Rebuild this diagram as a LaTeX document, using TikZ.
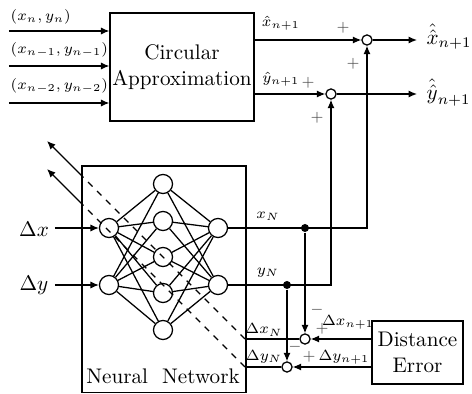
\documentclass[tikz,border=0pt]{standalone}
\usetikzlibrary{arrows.meta}
\begin{document}
\begin{tikzpicture}[x=0.473pt,y=-0.473pt,
  line width=0.6pt,
  arr/.style={-{Latex[length=4pt,width=3.4pt]}},
  neuron/.style={circle,draw,minimum size=9pt,inner sep=0pt,fill=white},
  summer/.style={circle,draw,minimum size=4.8pt,inner sep=0pt,fill=white},
  dotn/.style={circle,fill,minimum size=3.8pt,inner sep=0pt},
  blk/.style={draw,align=center,inner sep=0pt},
  lbl/.style={font=\scriptsize,inner sep=1pt},
  sgn/.style={font=\scriptsize,inner sep=0pt,text=black!70}]
\useasboundingbox (0,0) rectangle (472,394);

% Circular approximation block
\node[blk,minimum width=68.1pt,minimum height=51.1pt] (ca) at (182,67) {Circular\\Approximation};
\coordinate (in1) at (9,31);
\coordinate (in2) at (9,66);
\coordinate (in3) at (9,103);
\draw[arr] (in1) -- (ca.west |- in1);
\draw[arr] (in2) -- (ca.west |- in2);
\draw[arr] (in3) -- (ca.west |- in3);
\node[lbl,anchor=west] (l1) at (8,17) {$(x_n,y_n)$};
\node[lbl,anchor=west] (l2) at (8,50) {$(x_{n-1},y_{n-1})$};
\node[lbl,anchor=west] (l3) at (8,86) {$(x_{n-2},y_{n-2})$};

% output summers
\node[summer] (sx) at (367,40) {};
\node[summer] (sy) at (331,94) {};
\draw[arr] (ca.east |- sx) -- (sx);
\draw[arr] (ca.east |- sy) -- (sy);
\coordinate (ox) at (417,40);
\coordinate (oy) at (417,94);
\draw[arr] (sx) -- (ox);
\draw[arr] (sy) -- (oy);
\node[anchor=base west,inner sep=0pt] (lox) at (426,44) {$\hat{\hat{x}}_{n+1}$};
\node[anchor=base west,inner sep=0pt] (loy) at (426,99) {$\hat{\hat{y}}_{n+1}$};
\node[lbl] (lxh) at (281,23) {$\hat{x}_{n+1}$};
\node[lbl] (lyh) at (281,79) {$\hat{y}_{n+1}$};
\node[sgn] (p1) at (343,28) {$+$};
\node[sgn] (p2) at (353,64) {$+$};
\node[sgn] (p3) at (308,83) {$+$};
\node[sgn] (p4) at (317,118) {$+$};

% Neural network block
\node[draw,minimum width=77.6pt,minimum height=107.1pt,inner sep=0pt] (nn) at (164,279.3) {};
\node (nnl) at (163,376) {Neural\ \ Network};

\node[neuron] (i1) at (109,228) {};
\node[neuron] (i2) at (109,285) {};
\node[neuron] (h1) at (163,184) {};
\node[neuron] (h2) at (163,221) {};
\node[neuron] (h3) at (163,257) {};
\node[neuron] (h4) at (163,293) {};
\node[neuron] (h5) at (163,330) {};
\node[neuron] (o1) at (218,228) {};
\node[neuron] (o2) at (218,285) {};
\foreach \i in {i1,i2} \foreach \h in {h1,h2,h3,h4,h5} \draw (\i) -- (\h);
\foreach \o in {o1,o2} \foreach \h in {h1,h2,h3,h4,h5} \draw (\h) -- (\o);

\node (ldx) at (34,229) {$\Delta x$};
\node (ldy) at (34,285) {$\Delta y$};
\coordinate (ax) at (55,228);
\coordinate (ay) at (55,285);
\draw[arr] (ax) -- (i1);
\draw[arr] (ay) -- (i2);

% NN outputs
\coordinate (cx) at (367,228);
\coordinate (cy) at (331,285);
\draw[arr] (o1) -- (cx) -- (sx);
\draw[arr] (o2) -- (cy) -- (sy);
\node[lbl] (lxn) at (268,216) {$x_N$};
\node[lbl] (lyn) at (268,273) {$y_N$};
\node[dotn] (dx1) at (305,228) {};
\node[dotn] (dy1) at (287,285) {};

% difference summers
\node[summer] (dsx) at (305,339) {};
\node[summer] (dsy) at (287,367) {};
\draw[arr] (dx1) -- (dsx);
\draw[arr] (dy1) -- (dsy);

% Distance error
\node[blk,minimum width=43pt,minimum height=29.8pt] (de) at (417.5,352.5) {Distance\\Error};
\draw[arr] (de.west |- dsx) -- (dsx);
\draw[arr] (de.west |- dsy) -- (dsy);
\node[lbl] (ldxn1) at (348,322) {$\Delta x_{n+1}$};
\node[lbl] (ldyn1) at (344,357) {$\Delta y_{n+1}$};
\node[sgn] (m1) at (317,310) {$-$};
\node[sgn] (q1) at (322,329) {$+$};
\node[sgn] (m2) at (295,347) {$-$};
\node[sgn] (q2) at (309,357) {$+$};

% feedback to network
\coordinate (ex) at (245,339);
\coordinate (ey) at (245,367);
\coordinate (bx) at (82,176);
\coordinate (by) at (82,204);
\coordinate (tx) at (47,141);
\coordinate (ty) at (47,169);
\draw (dsx) -- (ex);
\draw (dsy) -- (ey);
\draw[dashed] (ex) -- (bx);
\draw[dashed] (ey) -- (by);
\draw[arr] (bx) -- (tx);
\draw[arr] (by) -- (ty);
\node[lbl] (ldxn) at (264,330) {$\Delta x_N$};
\node[lbl] (ldyn) at (264,357) {$\Delta y_N$};
\end{tikzpicture}
\end{document}
